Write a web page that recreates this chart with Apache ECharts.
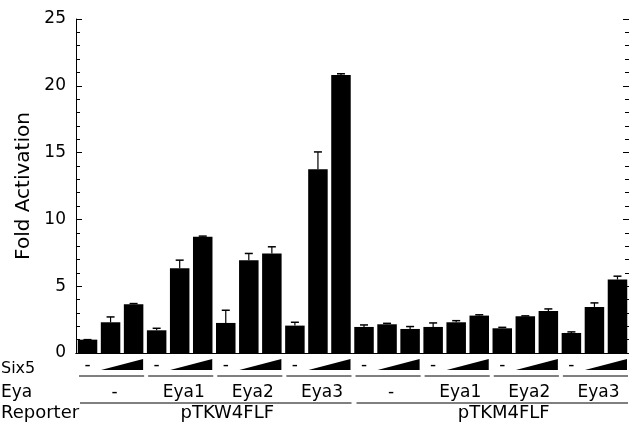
<!DOCTYPE html>
<html><head><meta charset="utf-8">
<script src="https://cdn.jsdelivr.net/npm/echarts@6.0.0/dist/echarts.min.js"></script>
<style>html,body{margin:0;padding:0;background:#fff}#c{width:629px;height:425px}</style>
</head><body><div id="c"></div>
<script>
// 24 bars: 2 reporters x 4 Eya conditions x 3 Six5 doses
const categories = [
  'W-none-0','W-none-1','W-none-2','W-Eya1-0','W-Eya1-1','W-Eya1-2',
  'W-Eya2-0','W-Eya2-1','W-Eya2-2','W-Eya3-0','W-Eya3-1','W-Eya3-2',
  'M-none-0','M-none-1','M-none-2','M-Eya1-0','M-Eya1-1','M-Eya1-2',
  'M-Eya2-0','M-Eya2-1','M-Eya2-2','M-Eya3-0','M-Eya3-1','M-Eya3-2'
];
const foldValues = [1.0, 2.3, 3.65, 1.7, 6.35, 8.7, 2.25, 6.95, 7.45, 2.05, 13.75, 20.8,
                    1.95, 2.15, 1.8, 1.95, 2.3, 2.8, 1.85, 2.75, 3.15, 1.5, 3.45, 5.5];
const errorTops  = [1.0, 2.7, 3.7, 1.85, 6.95, 8.75, 3.2, 7.45, 7.95, 2.3, 15.05, 20.9,
                    2.1, 2.22, 1.98, 2.25, 2.42, 2.86, 1.92, 2.78, 3.3, 1.58, 3.75, 5.75];
const eyaLabels = ['-', 'Eya1', 'Eya2', 'Eya3', '-', 'Eya1', 'Eya2', 'Eya3'];
const reporterLabels = ['pTKW4FLF', 'pTKM4FLF'];
const rowLabels = ['Six5', 'Eya', 'Reporter'];
const yMin = 0, yMax = 25, yStep = 5;

const FONT = '"DejaVu Sans", sans-serif';
const chart = echarts.init(document.getElementById('c'), null, {renderer: 'canvas'});
const axisCommon = {
  type: 'value', min: yMin, max: yMax, interval: yStep,
  axisLine: {show: true, lineStyle: {color: '#000', width: 1}},
  axisTick: {show: true, inside: true, length: 6, lineStyle: {color: '#000'}},
  minorTick: {show: true, splitNumber: 5, length: 4, lineStyle: {color: '#000'}},
  splitLine: {show: false}
};
chart.setOption({
  animation: false,
  grid: {left: 76, top: 19, width: 556, height: 334},
  xAxis: [
    {type: 'category', data: categories, position: 'bottom',
     axisLine: {lineStyle: {color: '#000'}}, axisTick: {show: false}, axisLabel: {show: false}},
    {type: 'category', data: categories, position: 'top',
     axisLine: {lineStyle: {color: '#000'}}, axisTick: {show: false}, axisLabel: {show: false}}
  ],
  yAxis: [
    Object.assign({}, axisCommon, {
      position: 'left',
      axisLabel: {color: '#000', fontSize: 17, fontFamily: FONT, margin: 10},
      name: 'Fold Activation', nameLocation: 'middle', nameGap: 40,
      nameTextStyle: {color: '#000', fontSize: 20, fontFamily: FONT}
    }),
    Object.assign({}, axisCommon, {position: 'right', axisLabel: {show: false}})
  ],
  series: [
    {type: 'bar', data: foldValues, barWidth: 19.5, itemStyle: {color: '#000'}, z: 2},
    {type: 'custom', z: 3,
     data: foldValues.map((v, i) => [i, v, errorTops[i]]),
     renderItem: function (params, api) {
       const i = api.value(0), v = api.value(1), e = api.value(2);
       const p1 = api.coord([i, v]);
       const p2 = api.coord([i, e]);
       const half = 4;
       return {type: 'group', children: [
         {type: 'line', shape: {x1: p1[0], y1: p1[1], x2: p2[0], y2: p2[1]},
          style: {stroke: '#000', lineWidth: 1.2}},
         {type: 'line', shape: {x1: p2[0] - half, y1: p2[1], x2: p2[0] + half, y2: p2[1]},
          style: {stroke: '#000', lineWidth: 1.5}}
       ]};
     }}
  ]
});

// annotation rows under the axis, placed from the category scale
const cx = i => chart.convertToPixel({xAxisIndex: 0}, categories[i]);
const band = cx(1) - cx(0);
const y0 = chart.convertToPixel({yAxisIndex: 0}, 0);
const rowSix5 = y0 + 16, rowEya = y0 + 40, rowRep = y0 + 60;
const g = [];
const txt = (t, x, y, align, size) => ({type: 'text', style: {text: t, x: x, y: y, align: align || 'center',
  verticalAlign: 'middle', fill: '#000', font: (size || 17) + 'px ' + FONT}});
const ln = (x1, y1, x2, y2) => ({type: 'line', shape: {x1, y1, x2, y2}, style: {stroke: '#000', lineWidth: 1}});
g.push(txt(rowLabels[0], 1, rowSix5, 'left', 16));
g.push(txt(rowLabels[1], 1, rowEya, 'left', 17));
g.push(txt(rowLabels[2], 1, rowRep, 'left', 18));
for (let t = 0; t < 8; t++) {
  const i0 = t * 3;
  g.push(txt('-', cx(i0), rowSix5 - 3));
  const xl = cx(i0 + 1) - 9.5, xr = cx(i0 + 2) + 9.5;
  g.push({type: 'polygon', shape: {points: [[xl, rowSix5 + 1], [xr, rowSix5 - 10], [xr, rowSix5 + 1]]},
          style: {fill: '#000'}});
  g.push(ln(cx(i0) - band / 2 + 3, rowSix5 + 7, cx(i0 + 2) + band / 2 - 1, rowSix5 + 7));
  g.push(txt(eyaLabels[t], cx(i0 + 1) + 4, rowEya));
}
for (let r = 0; r < 2; r++) {
  const i0 = r * 12;
  g.push(ln(cx(i0) - band / 2 + 4, rowEya + 10, cx(i0 + 11) + band / 2 - 1, rowEya + 10));
  g.push(txt(reporterLabels[r], (cx(i0) + cx(i0 + 11)) / 2 + 13, rowRep, 'center', 18));
}
chart.setOption({graphic: g});
</script></body></html>
